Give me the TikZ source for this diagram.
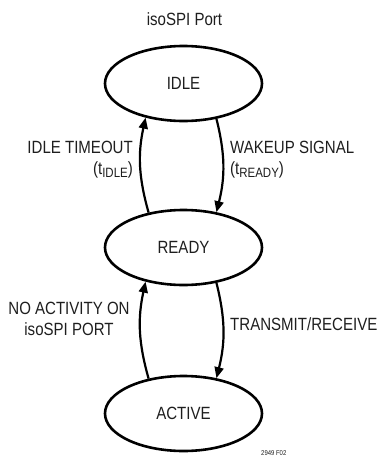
\documentclass[tikz,border=0pt]{standalone}
\usepackage{fontspec}
\setmainfont{Liberation Sans}[FakeStretch=0.85]
\usetikzlibrary{arrows.meta,shapes.geometric}

\definecolor{linecol}{RGB}{0, 0, 0}
\definecolor{textcol}{RGB}{30, 30, 30}

\newcommand{\lblfont}{\fontsize{17.7}{21}\selectfont}
\newcommand{\tinyfont}{\fontsize{7}{8}\selectfont}
% subscript in the label font
\newcommand{\lblsub}[1]{\raisebox{-3pt}{\fontsize{13.5}{15}\selectfont #1}}

\tikzset{
  statenode/.style={ellipse, draw=linecol, line width=2.6pt, minimum width=157pt,
    minimum height=75pt, inner sep=0pt, font=\lblfont, text=textcol},
  trans/.style={draw=linecol, line width=2.2pt, -{Triangle[length=11pt, width=9pt]}},
  lbl/.style={inner sep=0pt, font=\lblfont, text=textcol},
}

\begin{document}
\begin{tikzpicture}[x=1pt, y=-1pt]
    \useasboundingbox (0,0) rectangle (381,456);

    % States of the port
    \node[statenode] (idle)   at (183.5, 83.5)  {IDLE};
    \node[statenode] (ready)  at (183.5, 247.5) {READY};
    \node[statenode] (active) at (183.5, 413.5) {ACTIVE};

    % Transitions: up on the left, down on the right
    \draw[trans] (ready.135) to[bend left=14] (idle.222);
    \draw[trans] (idle.313)  to[bend left=14] (ready.47);
    \draw[trans] (active.135) to[bend left=14] (ready.222);
    \draw[trans] (ready.313)  to[bend left=14] (active.47);

    % Labels
    \node[lbl, anchor=base] (title) at (184.5, 25) {isoSPI Port};
    \node[lbl, anchor=north east, align=right] (lblidle) at (133, 141)
        {IDLE TIMEOUT\\(t\lblsub{IDLE})};
    \node[lbl, anchor=north west, align=left] (lblwake) at (230, 141)
        {WAKEUP SIGNAL\\(t\lblsub{READY})};
    \node[lbl, anchor=north, align=center] (lblnoact) at (69, 302)
        {NO ACTIVITY ON\\isoSPI PORT};
    \node[lbl, anchor=base west] (lbltx) at (230, 330) {TRANSMIT/RECEIVE};

    % Figure number, cut by the lower edge
    \node[lbl, font=\tinyfont, anchor=north west] (figno) at (261, 450.5) {2949 F02};

\end{tikzpicture}
\end{document}
